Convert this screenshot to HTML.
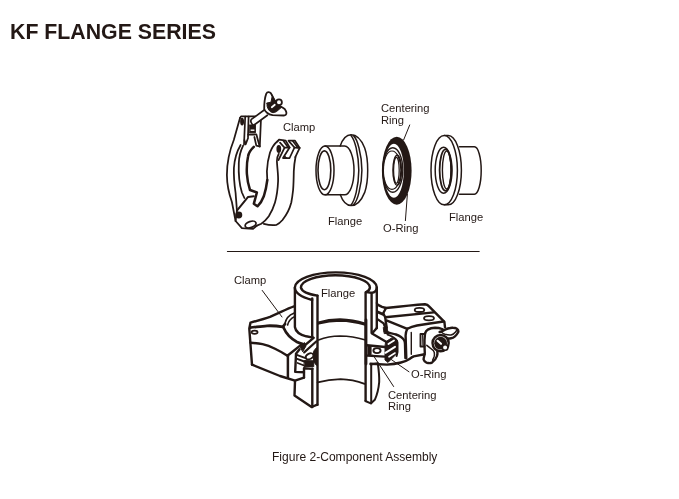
<!DOCTYPE html>
<html><head><meta charset="utf-8">
<style>
html,body{margin:0;padding:0;background:#fff;}
body{width:679px;height:499px;position:relative;overflow:hidden;font-family:"Liberation Sans",sans-serif;color:#231815;}
.t{position:absolute;white-space:nowrap;line-height:1;will-change:transform;-webkit-font-smoothing:antialiased;}
#title{left:10px;top:21.7px;font-size:21.3px;font-weight:bold;}
.l{font-size:11.2px;}
#cap{left:271.9px;top:451px;font-size:12.05px;}
svg{position:absolute;left:0;top:0;}
</style></head><body>
<div class="t" id="title">KF FLANGE SERIES</div>
<div class="t l" style="left:283px;top:121.5px">Clamp</div>
<div class="t l" style="left:381.3px;top:103.3px">Centering</div>
<div class="t l" style="left:381.3px;top:114.6px">Ring</div>
<div class="t l" style="left:328.3px;top:216px">Flange</div>
<div class="t l" style="left:383.3px;top:222.8px">O-Ring</div>
<div class="t l" style="left:449.3px;top:212px">Flange</div>
<div class="t l" style="left:234.3px;top:274.8px">Clamp</div>
<div class="t l" style="left:321px;top:287.5px">Flange</div>
<div class="t l" style="left:411.2px;top:368.8px">O-Ring</div>
<div class="t l" style="left:388px;top:389.6px">Centering</div>
<div class="t l" style="left:388px;top:400.8px">Ring</div>
<div class="t" id="cap">Figure 2-Component Assembly</div>
<svg width="679" height="499" viewBox="0 0 679 499" fill="none" stroke="#231815" stroke-width="1.5" stroke-linecap="round" stroke-linejoin="round">
<!-- divider -->
<line x1="227.4" y1="251.5" x2="479.2" y2="251.5" stroke-width="1.1"/>
<!-- leader lines -->
<g stroke-width="1">
<line x1="409.7" y1="125" x2="403.6" y2="140"/>
<line x1="407.4" y1="194" x2="405.4" y2="220.6"/>
<line x1="262.2" y1="290.4" x2="282" y2="317"/>
<line x1="409" y1="371.8" x2="391.4" y2="359.6"/>
<line x1="393.6" y1="386.5" x2="373" y2="355"/>
</g>

<!-- ===== TOP CLAMP ===== -->
<g id="clampTop" stroke-width="1.75">
<!-- left arm -->
<path d="M240,118 L233.8,140 C229,152 226.9,165 226.9,175 C227,186 229.4,195 231.9,202 L235.6,221 L241.9,228.1 L253.1,228.8 L256.9,225.6"/>
<path d="M240.6,145 C236.5,152 234.4,160 233.9,168 C233.5,178 234.6,186 235.6,193 C236,199 236.6,205 236.9,210.6"/>
<path d="M243.1,145.6 C240.5,151 239,156 238.8,163 C238.4,174 239.5,185 241.9,192.5 L244.4,198"/>
<path d="M253.8,146.9 C250.5,150 248.6,153 248.1,156.3 C246.8,162 246.6,168 246.9,174 C247.3,181 248.4,185 250,190 L256.9,192.5 L253.8,203.8 L257.5,206.3 C261,203 262.8,199 263.8,196.3 C265.5,191 266.7,185 267.3,180" stroke-width="2.5"/>
<path d="M236.9,210.6 L248.1,196.9 L253.8,196.3" stroke-width="2"/>
<path d="M236.9,210.6 L235.6,221"/>
<ellipse cx="250.6" cy="224.5" rx="5.6" ry="3" transform="rotate(-18 250.6 224.5)"/>
<circle cx="238.8" cy="215" r="2.6" fill="#231815"/>
<!-- top body -->
<path d="M240,118 L241,116.4 L255.6,116.4" stroke-width="1.7"/>
<path d="M260.9,120.4 L259.8,146.5"/>
<ellipse cx="242.1" cy="121.6" rx="1.1" ry="3.1" fill="#231815"/>
<path d="M245.2,116.6 L244,144.6" stroke-width="1.7"/>
<path d="M248.6,116.6 L248,137"/>
<rect x="249.6" y="125" width="5.8" height="7.8" fill="#231815" stroke-width="1"/><line x1="250.6" y1="130.2" x2="254.4" y2="130.2" stroke="#fff" stroke-width="1.4" stroke-linecap="butt"/>
<path d="M248.1,134.6 L256.4,134.4 L259.6,146.3"/>
<path d="M244.4,140 L245.6,144.4 L248.1,138"/>
<path d="M254.4,137 L256.3,145.6 L259.4,146.3"/>
<!-- bolt shaft -->
<path d="M264.5,109.8 L251.3,119.4 C250.2,120.9 251.2,124.2 253.7,125.3 L267.4,115.2" fill="#fff" stroke-width="1.7"/>
<!-- wing nut -->
<path d="M264.2,109 C264.2,106 264.3,103.5 264.6,101 C265,98 265.5,95.6 266.2,93.8 C266.8,92.6 267.6,92.1 268.6,92.2 C269.6,92.3 270.4,92.7 271,93.4 C272,94.8 272.8,96.4 273.4,98.2 L275,101 L277,102.2 L279.8,106 C281.8,107 283.4,108 284.7,109 C285.6,110.2 286.2,111.4 286.4,112.7 C286.5,113.6 286.4,114.2 285.9,114.7 C285.3,115.3 284.7,115.5 283.9,115.5 L272.6,115.2 C270.5,114.8 268.6,114 267,112.7 C265.6,111.6 264.6,110.4 264.2,109 Z" fill="#fff" stroke-width="1.8"/>
<path d="M267,103 L271,102.2 L272.2,96.2 L271,93.6 C272.4,95.4 273.6,98 275,100.6 L277,102.2 L279.8,106 L281.5,107.3 L276.6,111.5 C275.4,112.2 274.2,112.6 273,112.7 C272,112.6 271,112.2 270.2,111.5 C269.2,110.6 268.4,109.4 267.8,108.2 C267.3,107.2 267,106.2 267,105 Z" fill="#231815" stroke-width="1"/>
<line x1="271.8" y1="107.2" x2="274.8" y2="104.7" stroke="#fff" stroke-width="1.8"/>
<circle cx="279" cy="102.2" r="2.9" fill="#fff" stroke-width="1.8"/>
<!-- right arm -->
<path d="M277.5,141.3 C273.5,144.5 271.5,148.5 270,152.5 C268,159 267.2,165 266.9,171.3 L267.3,180"/>
<path d="M278.8,153.8 C277.5,156 276.9,158.5 276.9,161.3 C277.2,168 278.3,174 278.1,181 C277.8,188 276.8,196 275,202.5 C273.5,207.5 271.5,212 268.8,216.3 C266.5,219.5 264,222 261.3,223.8 L256.9,225.6"/>
<path d="M295.5,157 C294.5,162 294,167 293.8,171.3 C293.7,178 293.6,184 293.1,190 C292.6,194.5 292,199 291.3,202.5 C289.5,209.5 286.5,215 282.5,220 C280.5,222.3 278.5,224 276.3,225 C272,225.6 268,225 263.8,223.8"/>
<ellipse cx="278.8" cy="149" rx="1.5" ry="3.1" fill="#231815"/>
<!-- lugs -->
<path d="M277.5,141.3 L279,139.6 L285.7,140.6 L289.6,147.5 L283,158 L289.6,158 L294.5,147.5 L289,141.4"/>
<path d="M280,142.6 L284.6,147.7 L278.5,160" stroke-width="1.7"/>
<path d="M284.6,147.6 L289.6,147.6"/>
<path d="M283.2,140.6 L288,147.3" stroke-width="1.7"/>
<path d="M288.5,140.6 L294.8,140.6 L299.7,147.9 L295.3,157.2"/>
<path d="M294.5,147.6 L299.7,147.9"/>
<path d="M292.6,140.8 L297.8,147.6" stroke-width="1.7"/>
<path d="M284.8,156.2 L286.6,157.6 L284,157.8 Z" fill="#231815" stroke-width="1"/>
</g>

<!-- ===== FLANGE 1 ===== -->
<g id="fl1">
<path d="M340.2,146 C342.5,139.5 346,134.8 351,134.8 C357,134.8 361.5,140 364.7,148 C366.8,154 367.7,162 367.7,170.2 C367.7,178.4 366.8,186.4 364.7,192.4 C361.5,200.4 357,205.6 351,205.6 C346,205.6 342.5,200.9 340.2,194.6"/>
<path d="M353.5,135.6 C356,138 357.8,143 359,148 C360.8,155 361.9,162 361.9,170.2 C361.9,178.4 360.8,185.4 359,192.4 C357.8,197.4 356,202.4 353.5,204.8"/>
<path d="M351,135.4 C353.3,138 355,143 356.2,148 C357.8,155 358.7,162 358.8,170.2 C358.7,178.4 357.8,185.4 356.2,192.4 C355,197.4 353.3,202.4 351,205"/>
<path d="M325,146 L344.6,146 A9.4,24.4 0 0 1 344.6,194.8 L325,194.8"/>
<ellipse cx="325" cy="170.4" rx="9" ry="24.4"/>
<ellipse cx="324.4" cy="170.3" rx="6.4" ry="19.4" stroke-width="1.6"/>
</g>

<!-- ===== O-RING / CENTERING RING ===== -->
<g id="oring">
<ellipse cx="396.75" cy="170.7" rx="14.85" ry="34" fill="#231815" stroke="none"/>
<ellipse cx="393.9" cy="170.7" rx="9.9" ry="27" fill="#fff" stroke="none"/>
<ellipse cx="392.8" cy="170" rx="10" ry="22.2" stroke-width="1.4"/>
<ellipse cx="392" cy="170.2" rx="8.9" ry="19.2" stroke-width="1.2"/>
<ellipse cx="397.2" cy="170.3" rx="4.3" ry="15" stroke-width="1.4"/>
<ellipse cx="396.4" cy="170.3" rx="2.8" ry="13" stroke-width="1.2"/>
</g>

<!-- ===== FLANGE 2 ===== -->
<g id="fl2">
<path d="M444.2,135.6 L448.2,135.6 A13.2,34.6 0 0 1 448.2,204.8 L444.2,204.8"/>
<ellipse cx="444.2" cy="170.2" rx="13.2" ry="34.6" fill="#fff"/>
<ellipse cx="443.6" cy="170.2" rx="8.4" ry="23"/>
<ellipse cx="445.5" cy="170.1" rx="5.9" ry="20.8" stroke-width="1.8"/>
<ellipse cx="446.7" cy="170" rx="4.3" ry="19" stroke-width="1.4"/>
<path d="M459.5,146.8 L474.4,146.8 A6.8,23.7 0 0 1 474.4,194.2 L459.5,194.2"/>
</g>

<!-- ===== ASSEMBLY ===== -->
<g id="asm" stroke-width="2.4">
<!-- tube top -->
<path d="M312.2,300 A41,15.2 0 0 1 294.85,287.6 A41,15.2 0 0 1 376.85,287.6 C376.5,290.5 374.5,292.6 371.6,292.9 L366.3,292"/>
<path d="M317.4,295.6 C310,294.5 302,292 300.9,287.6 A34.5,12.4 0 0 1 369.9,287.6 C369.8,289.5 368.3,291 366.3,292"/>
<!-- walls -->
<path d="M294.9,287.6 L294.9,327 C295.5,331 299,334.5 306.2,336.3 L313,337.6"/>
<path d="M312.2,298.5 L312.2,337"/>
<path d="M317.5,295.6 L317.5,404.7"/>
<path d="M365.6,292.5 L365.6,400.2"/>
<path d="M371.6,293 L371.6,332.7"/>
<path d="M376.8,287.6 L376.8,328"/>
<!-- inner bands -->
<path d="M318.5,323 C326,320.8 334,320 340,320 C348,320.2 357,321.6 364.6,324" stroke-width="3.3"/>
<path d="M318.5,340 C326,337 334,336 340,336 C348,336.2 357,337.5 364.6,339.8" stroke-width="1.6"/>
<path d="M317.6,382.3 C326,380 334,379.2 340.6,379.1 C348,379.3 357,381 364.6,383.8" stroke-width="1.9"/>
<!-- lower tube -->
<path d="M295,381 L294.5,395.6 L311.6,407 L317.3,404.7"/>
<path d="M312.3,368.6 L312.3,407"/>
<path d="M365.3,401 L370.8,403.4 L374.8,399.8 C377,395 378.6,389 379.2,382 C379.4,376 378.6,369 377.8,363.4" stroke-width="2"/>
<path d="M371.2,365 L371.2,403.2" stroke-width="2"/>
<!-- left clamp block -->
<path d="M252,364.7 L249.3,328.6 L250.5,322.6 C258,320.6 264,319 270,316.8 C280,312.6 287,308.8 294,306.4"/>
<path d="M250.3,327.6 C256,327 262,326.2 267,325.8 C273,325.6 278,326 282.9,326.8 L285,324" stroke-width="2.8"/>
<path d="M285,323.4 C286,318.6 289.6,314.8 293.8,313.2" stroke-width="1.6"/>
<path d="M287.6,325 C288.6,321 291.5,318 294.5,316.6" stroke-width="1.6"/>
<ellipse cx="254.6" cy="332.3" rx="3" ry="1.6" stroke-width="1.7"/>
<path d="M250.4,342.8 C255,343 259,343.4 262.5,344.2 C267,345.2 271,346.8 275,348.8 C279.6,351 284,353.6 287.4,355.8 L301.7,344.4"/>
<path d="M287.9,356.2 L287.9,377.6" stroke-width="2.5"/>
<path d="M252,364.7 L280,376 L295,380.6 L304,377.6"/>
<path d="M283.4,327.4 C285,331 287,334 289,336 C291.6,338.6 294.4,340.6 297,342 C299,343 301,343.6 303,344 L304.7,344.4" stroke-width="2.6"/>
<!-- left cross-section -->
<path d="M313.6,337.9 L302.1,347.6" stroke-width="2.5"/>
<path d="M316.5,341.3 L304.2,352.4" stroke-width="2.2"/>
<path d="M300.4,346.2 L304.5,342.6 L306,346 L302.8,351.4 Z" fill="#231815" stroke-width="1"/>
<path d="M299.6,349.2 L296,353.8 L295.2,371.9 L304,372.2 L304,377.6"/>
<path d="M304,372 L304,368.2 L312.4,368.9"/>
<path d="M296.7,354.8 L306.2,358.4" stroke-width="1.9"/>
<path d="M297.1,358.9 L305.7,362" stroke-width="1.9"/>
<path d="M297.6,362.9 L304,365.6" stroke-width="1.6"/>
<path d="M304.6,360.6 L313.6,360.8 L313.8,366.6 L304.4,366.4 Z" fill="#231815" stroke-width="1"/>
<path d="M313.8,351 L316.5,347.6 L316.5,365.4 L313.8,362 Z" fill="#231815" stroke-width="1"/>
<ellipse cx="309.6" cy="356.3" rx="4.1" ry="2.7" fill="#fff" stroke-width="1.9" transform="rotate(-25 309.6 356.3)"/>
<!-- right clamp body -->
<path d="M376.9,303 C377,304 377.4,304.6 378,304.9 L382,306.8 L386,308 C399,306.6 412,305.2 425,304.3 C427,304.6 428,305.2 428.8,306.1 L444.4,321.8 L445,327.4"/>
<path d="M386,308 L383.2,313.2 L385.2,317.2 L433.8,312.4"/>
<path d="M385.2,317.2 L386,323.3 L386.8,328 L384.6,331"/>
<path d="M387,320.6 L407.3,328.8 C410,327.4 413.5,326.2 417,325.5 C424,324.3 433,322.9 443.6,321.5"/>
<path d="M377.8,311.9 L383.4,314.6" stroke-width="2.8"/>
<path d="M377.8,319.4 L383.6,323.4 L385.6,328.6" stroke-width="2.3"/>

<ellipse cx="419.5" cy="309.9" rx="4.8" ry="2.1" stroke-width="1.8"/>
<ellipse cx="429" cy="318.2" rx="5" ry="2.1" stroke-width="1.8"/>
<path d="M407.3,328.8 C406,331.4 405.6,333.6 405.6,335.6 L406.3,358"/>
<path d="M411.3,332.4 L411.3,354.3" stroke-width="1.4"/>
<path d="M425,334 L420.5,334 L420.5,346.5 L424.6,346.5" stroke-width="1.9"/>
<path d="M422.6,335.3 L422.9,345.2" stroke-width="1.1"/>
<!-- wing nut on assembly -->
<path d="M425,333.6 C425.5,331.6 426.5,330.3 427.8,329.6 C430,328.4 432.5,327.9 435,327.8 C437.5,327.8 440,328.2 442,329 L444.6,330.6"/>
<path d="M425,333.6 C424.5,338 424.3,342 424.5,346 L424.8,353 C424.5,356 423.5,358 423.6,359.5 C424,361 425,362 426.5,362.6 C428.5,363.3 430.5,363.3 432,362.6 C434.5,361 436.2,358.5 437,356 C437.5,354.5 437.6,353 437.3,351.6"/>
<path d="M426.8,345.3 L430,347.8 C432,349 433.6,350.6 434.3,352.5 C434.6,354 434.5,355.6 434,357 L432.6,360.4" stroke-width="1.5"/>
<path d="M439.6,332 C441.6,331.6 443.4,330.8 445,329.8 C446.5,329 447.8,328.5 449,328.3 C450.5,327.8 452,327.7 453,327.8 C454.5,327.8 455.7,328 456.5,328.5 C457.6,329.2 458.2,329.8 458.3,330.5 C458.5,331.3 458.4,332 458,332.5 C457.2,334 456.2,335.3 455,336.3 C453.8,337.3 452.5,338 451,338.3 C449.6,338.6 448.3,338.6 447,338.3 L444.6,337" fill="#fff"/>
<path d="M441.6,332.2 C442.6,333.2 443.8,333.9 445,334.3 C447,334.9 449,335.2 451,335 C452.8,334.6 454.4,333.4 455.5,332 L457,330" stroke-width="1.5"/>
<circle cx="440.6" cy="343.1" r="8.1" stroke-width="2.4" fill="#fff"/>
<circle cx="440.6" cy="343.2" r="6.4" fill="#231815" stroke="none"/>
<line x1="437.6" y1="340.8" x2="441" y2="343.8" stroke="#fff" stroke-width="2.1"/>
<circle cx="445.1" cy="347.5" r="2.8" fill="#fff" stroke-width="1.6"/>
<path d="M370.5,363.8 L387,364.6 C392,364.3 397,363.5 401,362.5 C404,361.7 407,360.5 409.5,358.9 C411,357.9 412.5,357 413.7,356.4 L424.6,354.2"/>
<!-- right cross-section -->
<path d="M366,320 L366,364" stroke-width="2.8"/>
<path d="M376.8,328 L372,333.5 L386.5,342" stroke-width="2.4"/>

<path d="M383.6,327.6 L387,328.6 L388.6,333.4 L384.6,333.6 Z" fill="#231815" stroke-width="1"/>
<path d="M385.5,332 C389,333 392.6,333.6 396,334.5 C398,335.2 399.6,336 401,337 C402.4,338 403.4,339 404,340 C404.8,341.4 405,342.6 405,344 L405.4,358" stroke-width="2.4"/>
<path d="M387.5,334.6 C389.5,335.2 390.8,335.8 392,336.5 C393.6,337.4 394.8,338.4 396,339.5 C397,340.4 397.4,341.4 397.5,342.5 L397.5,352 L396.6,356" stroke-width="2"/>
<path d="M386,341.6 L391.6,338 L397,340 L397.4,353 L388,362.4 L385,360 L385,346 Z" fill="#231815" stroke-width="1"/>
<path d="M388.4,344 L394,340.4" stroke="#fff" stroke-width="1.8"/>
<path d="M385.4,352.8 L395,346.8" stroke="#fff" stroke-width="2"/>
<path d="M389,356.8 L395,353" stroke="#fff" stroke-width="1.6"/>
<path d="M367,345.3 L385,347 " stroke-width="2.4"/>
<path d="M367,355.6 L385,356.6" stroke-width="2.4"/>
<path d="M367.4,346 L371.6,346 L371.6,355 L367.4,355 Z" fill="#231815" stroke="none"/>
<ellipse cx="377" cy="350.6" rx="3.6" ry="2.5" stroke-width="1.9" fill="#fff"/>
<path d="M370.6,364.6 L377.8,363.2" stroke-width="2"/>
</g>
</svg>
</body></html>
